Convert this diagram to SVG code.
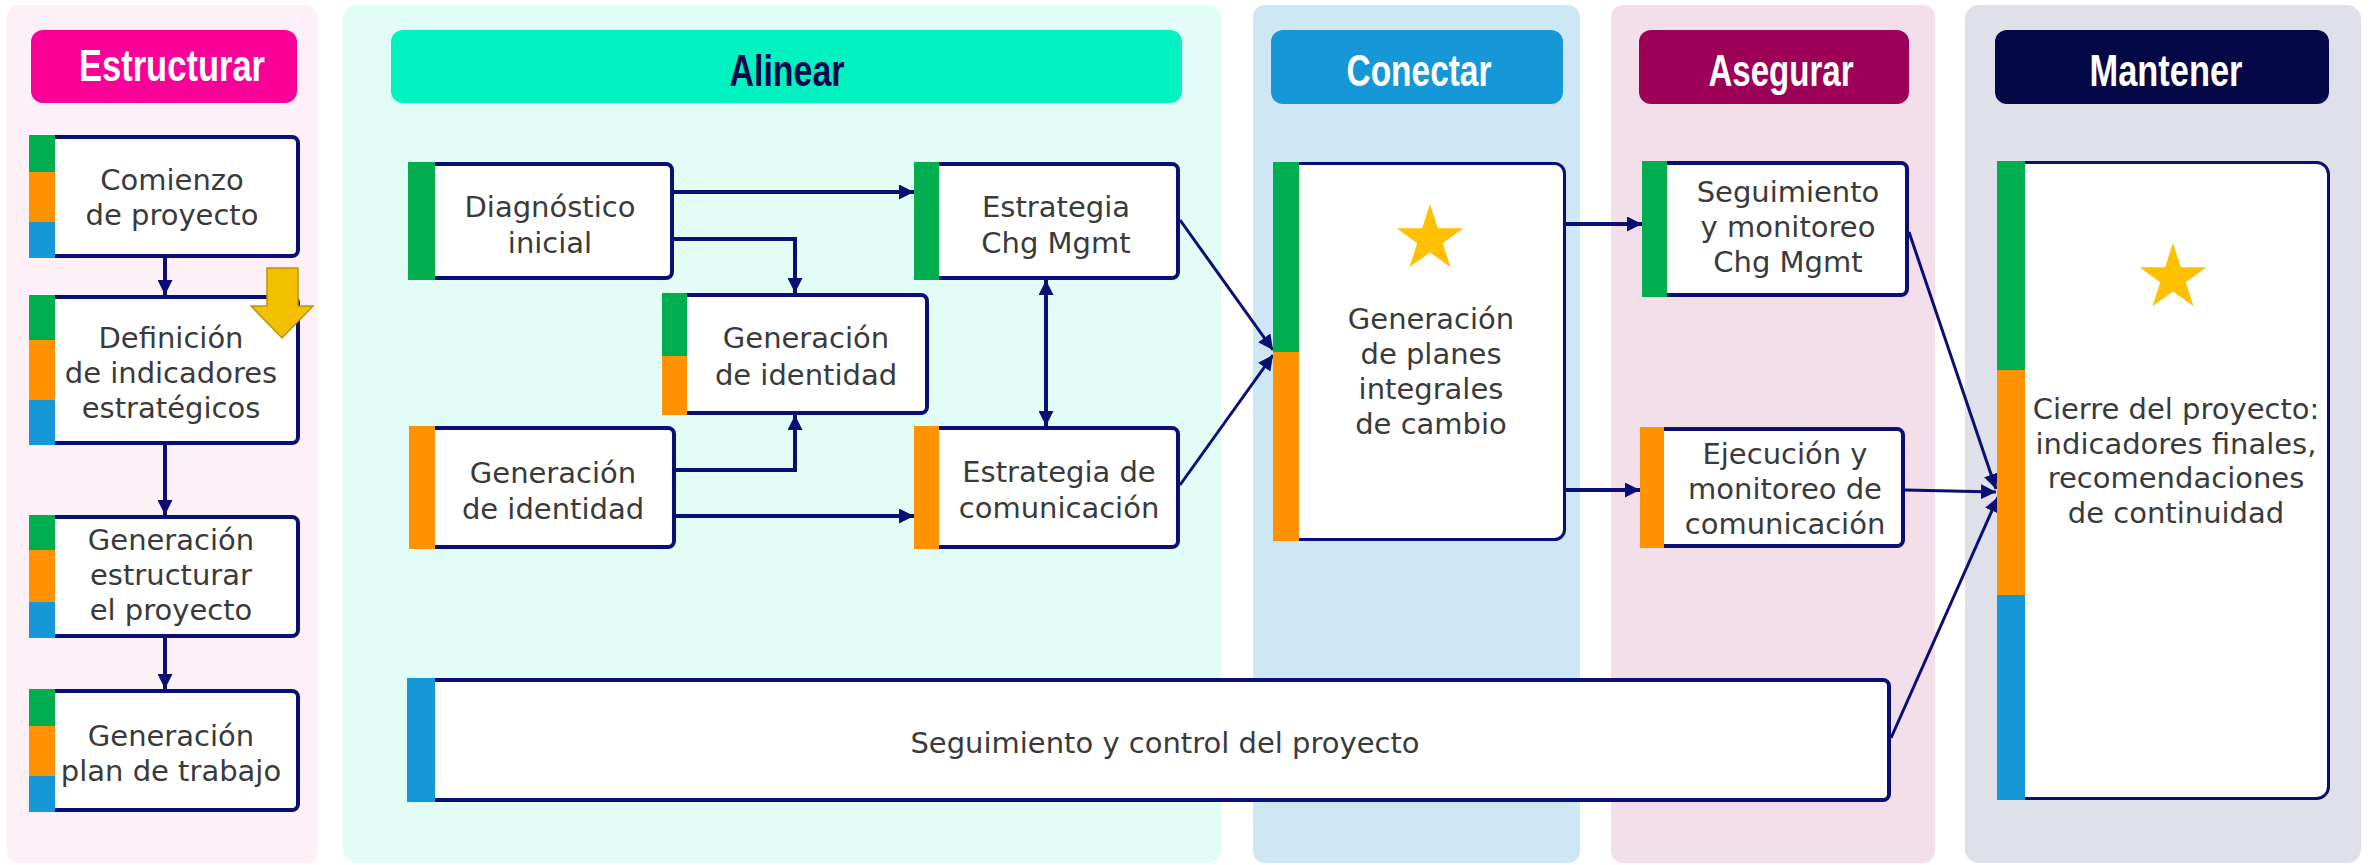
<svg xmlns="http://www.w3.org/2000/svg" width="2369" height="865" viewBox="0 0 2369 865">
<style>
.hdrtxt{font-family:"Liberation Sans",Arial,sans-serif;font-weight:bold;font-size:45px;text-anchor:middle}
.box{fill:#fff;stroke:#0b0f73;stroke-width:4}
.thin{stroke-width:3}
.txt{font-family:"DejaVu Sans","Noto Sans",sans-serif;font-size:29px;fill:#3a3a3a;text-anchor:middle}
.conn{fill:none;stroke:#0b0f73;stroke-width:4}
.conn2{fill:none;stroke:#0b0f73;stroke-width:3}
.g{fill:#00ad4f}.o{fill:#ff9200}.b{fill:#1597d8}
.star{fill:#ffc000}
</style>
<defs>
<marker id="ah" viewBox="0 0 10 10" refX="10" refY="5" markerWidth="15" markerHeight="15" markerUnits="userSpaceOnUse" orient="auto-start-reverse"><path d="M0,0 L10,5 L0,10 z" fill="#0b0f73"/></marker>
<path id="starshape" d="M0,-35 L7.88,-10.84 L33.29,-10.82 L12.74,4.14 L20.57,28.32 L0,13.4 L-20.57,28.32 L-12.74,4.14 L-33.29,-10.82 L-7.88,-10.84 Z"/>
</defs>

<g id="panels">
<rect x="7" y="5" width="311" height="858" rx="12" fill="#fdf0f6"/>
<rect x="343" y="5" width="878" height="858" rx="14" fill="#e2fcf6"/>
<rect x="1253" y="5" width="327" height="858" rx="12" fill="#cde8f4"/>
<rect x="1611" y="5" width="324" height="858" rx="12" fill="#f2dfea"/>
<rect x="1965" y="5" width="396" height="858" rx="14" fill="#dfe0ea"/>
</g>

<g id="headers">
<rect x="31" y="30" width="266" height="73" rx="12" fill="#fb0098"/>
<text class="hdrtxt" x="172" y="81" fill="#fff" textLength="186" lengthAdjust="spacingAndGlyphs">Estructurar</text>
<rect x="391" y="30" width="791" height="73" rx="12" fill="#00f2c0"/>
<text class="hdrtxt" x="787" y="86" fill="#060a4c" textLength="115" lengthAdjust="spacingAndGlyphs">Alinear</text>
<rect x="1271" y="30" width="292" height="74" rx="12" fill="#1597d8"/>
<text class="hdrtxt" x="1419" y="86" fill="#fff" textLength="145" lengthAdjust="spacingAndGlyphs">Conectar</text>
<rect x="1639" y="30" width="270" height="74" rx="12" fill="#9c0057"/>
<text class="hdrtxt" x="1781" y="86" fill="#fff" textLength="145" lengthAdjust="spacingAndGlyphs">Asegurar</text>
<rect x="1995" y="30" width="334" height="74" rx="12" fill="#050846"/>
<text class="hdrtxt" x="2166" y="86" fill="#fff" textLength="153" lengthAdjust="spacingAndGlyphs">Mantener</text>
</g>

<g id="connectors">
<path class="conn" d="M165,258 V295" marker-end="url(#ah)"/>
<path class="conn" d="M165,445 V515" marker-end="url(#ah)"/>
<path class="conn" d="M165,638 V689" marker-end="url(#ah)"/>
<path class="conn" d="M674,192 H914" marker-end="url(#ah)"/>
<path class="conn" d="M674,239 H795 V293" marker-end="url(#ah)"/>
<path class="conn" d="M676,470 H795 V415" marker-end="url(#ah)"/>
<path class="conn" d="M676,516 H914" marker-end="url(#ah)"/>
<path class="conn" d="M1046,280 V426" marker-start="url(#ah)" marker-end="url(#ah)"/>
<path class="conn2" d="M1180,220 L1273,350" marker-end="url(#ah)"/>
<path class="conn2" d="M1180,485 L1273,355" marker-end="url(#ah)"/>
<path class="conn" d="M1566,224 H1642" marker-end="url(#ah)"/>
<path class="conn" d="M1566,490 H1640" marker-end="url(#ah)"/>
<path class="conn2" d="M1909,232 L1996,489" marker-end="url(#ah)"/>
<path class="conn2" d="M1905,490 L1996,492" marker-end="url(#ah)"/>
<path class="conn2" d="M1891,738 L1998,497" marker-end="url(#ah)"/>
</g>

<g id="n-comienzo">
<rect class="box" x="31" y="137" width="267" height="119" rx="6"/>
<rect class="g" x="29" y="135" width="26" height="37"/>
<rect class="o" x="29" y="172" width="26" height="50"/>
<rect class="b" x="29" y="222" width="26" height="36"/>
<text class="txt" x="172" y="190">Comienzo</text>
<text class="txt" x="172" y="225">de proyecto</text>
</g>

<g id="n-definicion">
<rect class="box" x="31" y="297" width="267" height="146" rx="6"/>
<rect class="g" x="29" y="295" width="26" height="45"/>
<rect class="o" x="29" y="340" width="26" height="60"/>
<rect class="b" x="29" y="400" width="26" height="45"/>
<text class="txt" x="171" y="348">Definición</text>
<text class="txt" x="171" y="383">de indicadores</text>
<text class="txt" x="171" y="418">estratégicos</text>
<polygon points="267,268 298,268 298,306 313,306 282,338 251,306 267,306" fill="#f2c000" stroke="#b8930b" stroke-width="1.5"/>
</g>

<g id="n-estructurar">
<rect class="box" x="31" y="517" width="267" height="119" rx="6"/>
<rect class="g" x="29" y="515" width="26" height="35"/>
<rect class="o" x="29" y="550" width="26" height="52"/>
<rect class="b" x="29" y="602" width="26" height="36"/>
<text class="txt" x="171" y="550">Generación</text>
<text class="txt" x="171" y="585">estructurar</text>
<text class="txt" x="171" y="620">el proyecto</text>
</g>

<g id="n-plan">
<rect class="box" x="31" y="691" width="267" height="119" rx="6"/>
<rect class="g" x="29" y="689" width="26" height="37"/>
<rect class="o" x="29" y="726" width="26" height="50"/>
<rect class="b" x="29" y="776" width="26" height="36"/>
<text class="txt" x="171" y="746">Generación</text>
<text class="txt" x="171" y="781">plan de trabajo</text>
</g>

<g id="n-diagnostico">
<rect class="box" x="410" y="164" width="262" height="114" rx="6"/>
<rect class="g" x="408" y="162" width="27" height="118"/>
<text class="txt" x="550" y="217">Diagnóstico</text>
<text class="txt" x="550" y="253">inicial</text>
</g>

<g id="n-estrategia-chg">
<rect class="box" x="916" y="164" width="262" height="114" rx="6"/>
<rect class="g" x="914" y="162" width="25" height="118"/>
<text class="txt" x="1056" y="217">Estrategia</text>
<text class="txt" x="1056" y="253">Chg Mgmt</text>
</g>

<g id="n-identidad-1">
<rect class="box" x="664" y="295" width="263" height="118" rx="6"/>
<rect class="g" x="662" y="293" width="25" height="63"/>
<rect class="o" x="662" y="356" width="25" height="59"/>
<text class="txt" x="806" y="348">Generación</text>
<text class="txt" x="806" y="385">de identidad</text>
</g>

<g id="n-identidad-2">
<rect class="box" x="411" y="428" width="263" height="119" rx="6"/>
<rect class="o" x="409" y="426" width="26" height="123"/>
<text class="txt" x="553" y="483">Generación</text>
<text class="txt" x="553" y="519">de identidad</text>
</g>

<g id="n-estrategia-com">
<rect class="box" x="916" y="428" width="262" height="119" rx="6"/>
<rect class="o" x="914" y="426" width="25" height="123"/>
<text class="txt" x="1059" y="482">Estrategia de</text>
<text class="txt" x="1059" y="518">comunicación</text>
</g>

<g id="n-seguimiento-control">
<rect class="box" x="409" y="680" width="1480" height="120" rx="6"/>
<rect class="b" x="407" y="678" width="28" height="124"/>
<text class="txt" x="1165" y="753">Seguimiento y control del proyecto</text>
</g>

<g id="n-planes">
<rect class="box thin" x="1274.5" y="163.5" width="290" height="376" rx="10"/>
<rect class="g" x="1273" y="162" width="26" height="190"/>
<rect class="o" x="1273" y="352" width="26" height="189"/>
<use href="#starshape" class="star" x="1430" y="239"/>
<text class="txt" x="1431" y="329">Generación</text>
<text class="txt" x="1431" y="364">de planes</text>
<text class="txt" x="1431" y="399">integrales</text>
<text class="txt" x="1431" y="434">de cambio</text>
</g>

<g id="n-seguimiento-chg">
<rect class="box" x="1644" y="163" width="263" height="132" rx="6"/>
<rect class="g" x="1642" y="161" width="25" height="136"/>
<text class="txt" x="1788" y="202">Seguimiento</text>
<text class="txt" x="1788" y="237">y monitoreo</text>
<text class="txt" x="1788" y="272">Chg Mgmt</text>
</g>

<g id="n-ejecucion">
<rect class="box" x="1642" y="429" width="261" height="117" rx="6"/>
<rect class="o" x="1640" y="427" width="24" height="121"/>
<text class="txt" x="1785" y="464">Ejecución y</text>
<text class="txt" x="1785" y="499">monitoreo de</text>
<text class="txt" x="1785" y="534">comunicación</text>
</g>

<g id="n-cierre">
<rect class="box thin" x="1998.5" y="162.5" width="330" height="636" rx="12"/>
<rect class="g" x="1997" y="161" width="28" height="209"/>
<rect class="o" x="1997" y="370" width="28" height="225"/>
<rect class="b" x="1997" y="595" width="28" height="205"/>
<use href="#starshape" class="star" x="2173" y="278"/>
<text class="txt" x="2176" y="419">Cierre del proyecto:</text>
<text class="txt" x="2176" y="454">indicadores finales,</text>
<text class="txt" x="2176" y="488">recomendaciones</text>
<text class="txt" x="2176" y="523">de continuidad</text>
</g>
</svg>
